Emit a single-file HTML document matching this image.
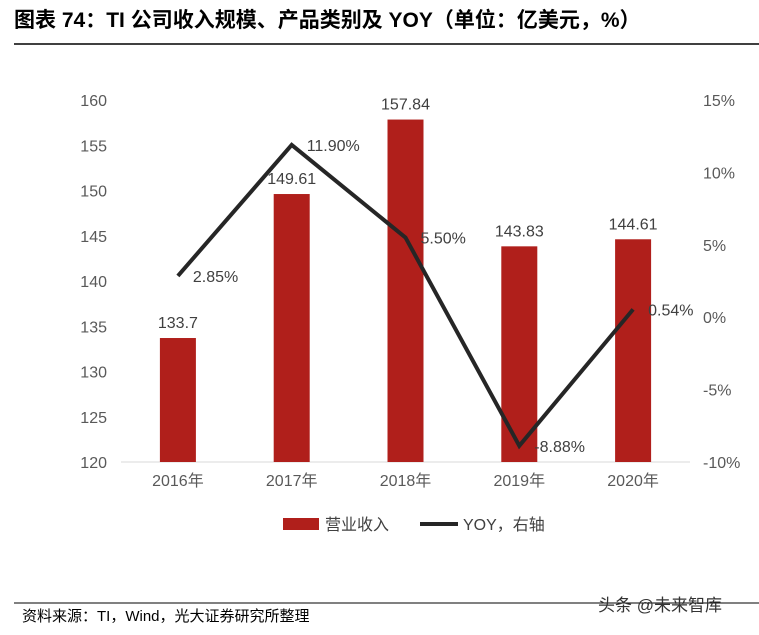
<!DOCTYPE html>
<html><head><meta charset="utf-8">
<style>
body{margin:0;background:#fff;width:759px;height:630px;overflow:hidden;font-family:"Liberation Sans","Noto Sans CJK SC",sans-serif;}
</style></head>
<body>
<svg width="759" height="630" xmlns="http://www.w3.org/2000/svg" font-family="Liberation Sans, Noto Sans CJK SC, sans-serif">
<text x="14" y="27" font-size="21" font-weight="bold" fill="#000">图表 74：TI 公司收入规模、产品类别及 YOY（单位：亿美元，%）</text>
<line x1="14" y1="44" x2="759" y2="44" stroke="#000" stroke-width="1.5"/>
<g id="chart"></g>
<g>
<rect x="283" y="518" width="36" height="12" fill="#B01F1B"/>
<text x="325" y="530" font-size="16" fill="#404040">营业收入</text>
<line x1="420" y1="524" x2="458" y2="524" stroke="#262626" stroke-width="4"/>
<text x="463" y="530" font-size="16" fill="#404040">YOY，右轴</text>
</g>
<line x1="14" y1="603" x2="759" y2="603" stroke="#000" stroke-width="1"/>
<text x="22" y="621" font-size="15" fill="#000">资料来源：TI，Wind，光大证券研究所整理</text>
<text x="598" y="611" font-size="17" fill="#333">头条 @未来智库</text>
</svg>
<script>
const categories=["2016年","2017年","2018年","2019年","2020年"];
const revenue=[133.7,149.61,157.84,143.83,144.61];
const revenueLabels=["133.7","149.61","157.84","143.83","144.61"];
const yoy=[2.85,11.90,5.50,-8.88,0.54];
const yoyLabels=["2.85%","11.90%","5.50%","-8.88%","0.54%"];
const leftTicks=[120,125,130,135,140,145,150,155,160];
const rightTicks=[-10,-5,0,5,10,15];
const NS="http://www.w3.org/2000/svg";
const g=document.getElementById("chart");
const plotTop=100,plotBot=462,x0=121,x1=690;
const yL=v=>plotBot-(v-120)/40*(plotBot-plotTop);
const yR=v=>plotBot-(v+10)/25*(plotBot-plotTop);
const band=(x1-x0)/categories.length;
const xC=i=>x0+band*(i+0.5);
function el(t,a,txt){const e=document.createElementNS(NS,t);for(const k in a)e.setAttribute(k,a[k]);if(txt!==undefined)e.textContent=txt;g.appendChild(e);return e;}
leftTicks.forEach(v=>{const t=el("text",{x:107,y:yL(v)+6,"text-anchor":"end","font-size":16,fill:"#595959"},v);

});
rightTicks.forEach(v=>{const t=el("text",{x:703,y:yR(v)+6,"font-size":16,fill:"#595959"},v+"%");

});
const ax=el("line",{x1:x0,y1:plotBot,x2:x1,y2:plotBot,stroke:"#d9d9d9","stroke-width":1});


categories.forEach((c,i)=>{
const bw=36,y=yL(revenue[i]);
const r=el("rect",{x:xC(i)-bw/2,y:y,width:bw,height:plotBot-y,fill:"#B01F1B"});


const l=el("text",{x:xC(i),y:y-10,"text-anchor":"middle","font-size":16,fill:"#404040"},revenueLabels[i]);


const c2=el("text",{x:xC(i),y:plotBot+24,"text-anchor":"middle","font-size":16,fill:"#595959"},c);


});
const pts=yoy.map((v,i)=>xC(i)+","+yR(v)).join(" ");
const pl=el("polyline",{points:pts,fill:"none",stroke:"#262626","stroke-width":4,"stroke-linejoin":"miter"});


yoy.forEach((v,i)=>{
const t=el("text",{x:xC(i)+15,y:yR(v)+6,"font-size":16,fill:"#404040"},yoyLabels[i]);


});
</script>
</body></html>
